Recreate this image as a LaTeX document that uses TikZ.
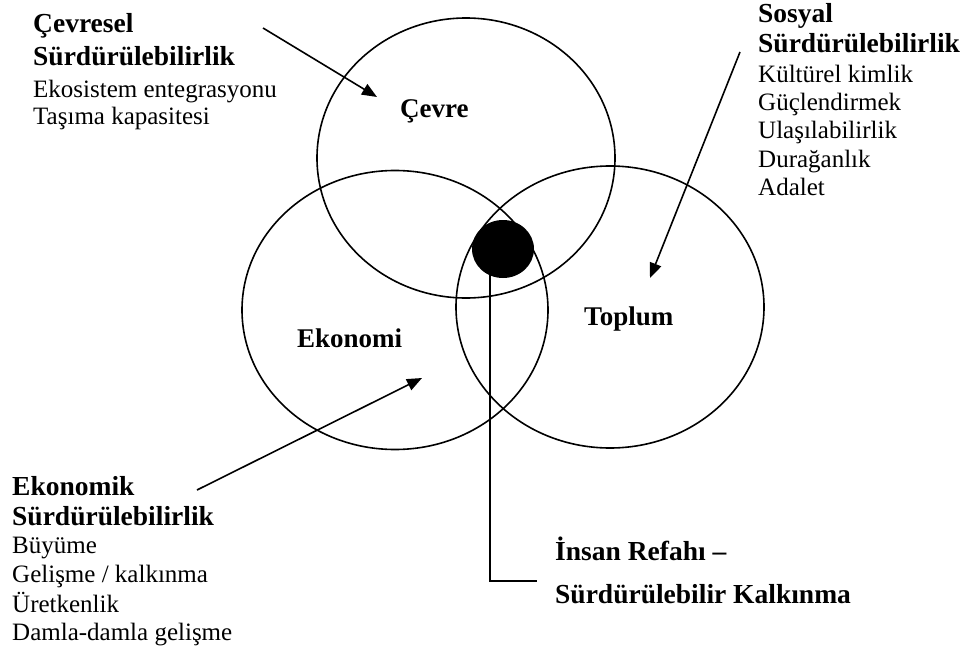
\documentclass[tikz,border=0pt]{standalone}
\usepackage{fontspec}
\setmainfont{Liberation Serif}
\usetikzlibrary{shapes.geometric,arrows.meta}

\tikzset{
  ring/.style={ellipse, draw, line width=1.6pt, inner sep=0pt},
  head/.style={font=\fontsize{27.5}{30}\selectfont\bfseries, anchor=base west, inner sep=0pt},
  item/.style={font=\fontsize{25}{28}\selectfont, anchor=base west, inner sep=0pt},
  tag/.style={font=\fontsize{27}{30}\selectfont\bfseries, anchor=base west, inner sep=0pt},
  pointer/.style={line width=1.6pt, -{Triangle[length=15pt,width=12pt]}},
  wire/.style={line width=1.6pt}
}

\begin{document}
\begin{tikzpicture}[x=1pt, y=-1pt]
  \useasboundingbox (0,0) rectangle (970,653);

  % the three spheres of sustainability
  \node[ring, minimum width=298pt, minimum height=280pt] (cevre)   at (466,158) {};
  \node[ring, minimum width=306pt, minimum height=279pt] (ekonomi) at (395,310) {};
  \node[ring, minimum width=308pt, minimum height=282pt] (toplum)  at (610,307) {};

  % common centre
  \node[ellipse, fill=black, inner sep=0pt, minimum width=62pt, minimum height=58pt] (dot) at (503,249) {};

  % labels inside the spheres
  \node[tag] (lcevre)   at (400,117) {Çevre};
  \node[tag] (lekonomi) at (297,347) {Ekonomi};
  \node[tag] (ltoplum)  at (584,325) {Toplum};

  % environmental block
  \node[head] (c1) at (33,32)  {Çevresel};
  \node[head] (c2) at (33,65)  {Sürdürülebilirlik};
  \node[item] (c3) at (33,97)  {Ekosistem entegrasyonu};
  \node[item] (c4) at (33,124) {Taşıma kapasitesi};

  % social block
  \node[head] (s1) at (758,22)  {Sosyal};
  \node[head] (s2) at (758,52)  {Sürdürülebilirlik};
  \node[item] (s3) at (758,82)  {Kültürel kimlik};
  \node[item] (s4) at (758,110) {Güçlendirmek};
  \node[item] (s5) at (758,138) {Ulaşılabilirlik};
  \node[item] (s6) at (758,167) {Durağanlık};
  \node[item] (s7) at (758,195) {Adalet};

  % economic block
  \node[head] (e1) at (12,495) {Ekonomik};
  \node[head] (e2) at (12,525) {Sürdürülebilirlik};
  \node[item] (e3) at (12,553) {Büyüme};
  \node[item] (e4) at (12,582) {Gelişme / kalkınma};
  \node[item] (e5) at (12,612) {Üretkenlik};
  \node[item] (e6) at (12,640) {Damla-damla gelişme};

  % human welfare caption
  \node[head] (w1) at (555,560) {İnsan Refahı –};
  \node[head] (w2) at (555,603) {Sürdürülebilir Kalkınma};

  % pointer ends
  \coordinate (cfrom) at (263,28);
  \coordinate (cto)   at (377,97);
  \coordinate (sfrom) at (740,52);
  \coordinate (sto)   at (650,278);
  \coordinate (efrom) at (197,490);
  \coordinate (eto)   at (422,378);
  \coordinate (drop)  at (490,249);
  \coordinate (hook)  at (537,581);

  \draw[pointer] (cfrom) -- (cto);
  \draw[pointer] (sfrom) -- (sto);
  \draw[pointer] (efrom) -- (eto);
  \draw[wire] (drop) |- (hook);
\end{tikzpicture}
\end{document}
